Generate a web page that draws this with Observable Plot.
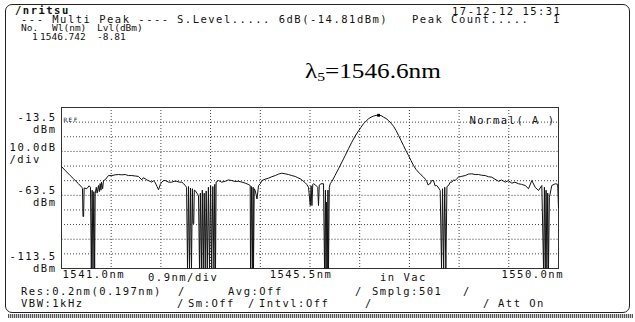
<!DOCTYPE html>
<html><head><meta charset="utf-8">
<script src="https://cdn.jsdelivr.net/npm/d3@7"></script>
<script src="https://cdn.jsdelivr.net/npm/@observablehq/plot@0.6"></script>
<style>
body{margin:0;background:#fff;}
#wrap{position:relative;width:635px;height:322px;overflow:hidden;background:#fff;font-family:"DejaVu Sans Mono",monospace;font-size:10.5px;letter-spacing:1.5px;color:#111;}
#wrap svg{position:absolute;left:0;top:0;}
.t{position:absolute;line-height:8px;white-space:pre;z-index:2;}
.n{font-size:9.5px;letter-spacing:0;}
#box{position:absolute;left:5px;top:4px;width:625px;height:309px;box-sizing:border-box;border:1px solid #222;border-radius:7px;z-index:1;}
#shadow{position:absolute;left:8px;top:314px;width:625px;height:4px;background:repeating-linear-gradient(90deg,#555 0 1px,#d0d0d0 1px 2px);z-index:1;}
#lam{position:absolute;left:305px;top:61px;font-family:"Liberation Serif","Times New Roman",serif;font-size:21px;line-height:21px;letter-spacing:0;transform:scaleX(1.2);transform-origin:left top;white-space:pre;z-index:2;color:#000;}
#lam sub{font-size:13px;vertical-align:-3px;line-height:0;}
</style>
</head><body>
<div id="wrap">
  <div id="box"></div>
  <div id="shadow"></div>
  <div class="t" style="left:15px;top:6px;font-weight:bold;">/nritsu</div>
  <div class="t" style="left:452px;top:7px;">17-12-12 15:31</div>
  <div class="t" style="left:21px;top:15px;">--- Multi Peak ----</div>
  <div class="t" style="left:177px;top:15px;">S.Level..... 6dB(-14.81dBm)</div>
  <div class="t" style="left:412px;top:15px;">Peak Count.....</div>
  <div class="t" style="left:553px;top:15px;">1</div>
  <div class="t n" style="left:21px;top:24px;">No.</div>
  <div class="t n" style="left:52px;top:24px;">Wl(nm)</div>
  <div class="t n" style="left:97px;top:24px;">Lvl(dBm)</div>
  <div class="t n" style="left:32px;top:33px;">1</div>
  <div class="t n" style="left:40px;top:33px;">1546.742</div>
  <div class="t n" style="left:97px;top:33px;">-8.81</div>
  <div id="lam">λ<sub>5</sub>=1546.6nm</div>
  <div class="t" style="left:148px;top:273px;">0.9nm/div</div>
  <div class="t" style="left:380px;top:273px;">in Vac</div>
  <div class="t" style="left:21px;top:287px;">Res:0.2nm(0.197nm)</div>
  <div class="t" style="left:178px;top:287px;">/</div>
  <div class="t" style="left:228px;top:287px;">Avg:Off</div>
  <div class="t" style="left:355px;top:287px;">/</div>
  <div class="t" style="left:372px;top:287px;">Smplg:501</div>
  <div class="t" style="left:463px;top:287px;">/</div>
  <div class="t" style="left:21px;top:299px;">VBW:1kHz</div>
  <div class="t" style="left:177px;top:299px;">/</div>
  <div class="t" style="left:188px;top:299px;">Sm:Off</div>
  <div class="t" style="left:248px;top:299px;">/</div>
  <div class="t" style="left:259px;top:299px;">Intvl:Off</div>
  <div class="t" style="left:365px;top:299px;">/</div>
  <div class="t" style="left:483px;top:299px;">/</div>
  <div class="t" style="left:498px;top:299px;">Att On</div>
</div>
<script>
// Trace samples: wavelength (nm) and level (dBm)
const wl = [
1541.000,1541.067,1541.158,1541.217,1541.308,1541.368,1541.380,1541.389,1541.400,1541.410,
1541.458,1541.500,1541.525,1541.540,1541.555,1541.570,1541.585,1541.600,1541.610,1541.630,
1541.645,1541.670,1541.685,1541.700,1541.715,1541.724,1541.745,1541.760,1541.791,1541.851,
1541.911,1541.972,1542.032,1542.093,1542.154,1542.213,1542.273,1542.334,1542.394,1542.454,
1542.480,1542.516,1542.546,1542.576,1542.606,1542.635,1542.665,1542.700,1542.730,1542.757,
1542.790,1542.816,1542.850,1542.878,1542.940,1542.997,1543.040,1543.088,1543.130,1543.179,
1543.210,1543.240,1543.265,1543.282,1543.300,1543.318,1543.336,1543.354,1543.370,1543.381,
1543.395,1543.405,1543.421,1543.450,1543.481,1543.499,1543.515,1543.533,1543.550,1543.567,
1543.585,1543.603,1543.620,1543.640,1543.660,1543.680,1543.700,1543.720,1543.740,1543.760,
1543.775,1543.789,1543.800,1543.843,1543.900,1543.964,1544.020,1544.084,1544.140,1544.205,
1544.270,1544.327,1544.380,1544.417,1544.423,1544.440,1544.455,1544.470,1544.477,1544.490,
1544.508,1544.540,1544.568,1544.600,1544.627,1544.690,1544.749,1544.810,1544.870,1544.930,
1544.989,1545.050,1545.111,1545.170,1545.232,1545.280,1545.323,1545.370,1545.413,1545.440,
1545.473,1545.505,1545.520,1545.535,1545.550,1545.564,1545.600,1545.640,1545.654,1545.668,
1545.700,1545.745,1545.763,1545.780,1545.790,1545.800,1545.812,1545.825,1545.835,1545.850,
1545.866,1545.895,1545.955,1546.016,1546.077,1546.138,1546.197,1546.257,1546.318,1546.378,
1546.424,1546.469,1546.515,1546.560,1546.605,1546.650,1546.696,1546.742,1546.787,1546.831,
1546.877,1546.922,1546.967,1547.012,1547.058,1547.103,1547.148,1547.193,1547.238,1547.284,
1547.330,1547.375,1547.420,1547.465,1547.510,1547.556,1547.590,1547.615,1547.640,1547.660,
1547.677,1547.700,1547.737,1547.765,1547.796,1547.830,1547.858,1547.882,1547.900,1547.920,
1547.940,1547.960,1547.980,1548.008,1548.040,1548.068,1548.100,1548.130,1548.160,1548.189,
1548.250,1548.311,1548.370,1548.430,1548.490,1548.552,1548.610,1548.673,1548.730,1548.792,
1548.850,1548.914,1548.970,1549.035,1549.090,1549.155,1549.210,1549.276,1549.330,1549.397,
1549.457,1549.517,1549.578,1549.638,1549.698,1549.729,1549.745,1549.760,1549.775,1549.790,
1549.805,1549.819,1549.835,1549.879,1549.941,1549.985,1550.000];
const lvl = [
-43.8,-46.5,-50.0,-52.2,-55.6,-58.0,-59.0,-78.0,-78.0,-58.5,
-59.0,-57.0,-58.0,-113.5,-60.0,-113.5,-61.0,-113.5,-62.5,-58.0,
-62.0,-56.8,-61.0,-55.5,-60.0,-54.5,-59.0,-53.5,-52.9,-50.0,
-50.0,-49.5,-49.3,-49.5,-49.3,-50.0,-50.0,-50.3,-50.6,-52.9,
-51.5,-52.2,-53.0,-53.4,-54.0,-54.5,-53.5,-55.0,-57.5,-59.7,
-56.0,-54.5,-53.4,-53.4,-54.5,-54.5,-53.9,-53.9,-54.5,-54.5,
-55.5,-56.8,-58.0,-113.5,-57.5,-113.5,-58.5,-113.5,-59.0,-82.8,
-82.8,-60.0,-60.2,-62.0,-63.6,-113.5,-62.0,-113.5,-60.0,-113.5,
-62.0,-113.5,-60.5,-113.5,-58.0,-113.5,-57.0,-113.5,-57.5,-113.5,
-56.0,-113.5,-54.5,-53.4,-54.5,-53.9,-53.0,-53.4,-54.0,-53.9,
-54.5,-55.2,-56.0,-56.8,-113.5,-57.5,-113.5,-58.0,-113.5,-59.0,
-60.2,-66.0,-56.8,-55.6,-53.4,-52.5,-51.8,-50.8,-50.0,-49.0,
-48.4,-48.8,-49.3,-50.0,-50.6,-51.5,-52.2,-53.5,-54.9,-56.0,
-58.0,-70.5,-57.0,-70.5,-56.0,-55.6,-56.5,-58.0,-70.5,-56.5,
-55.6,-55.6,-113.5,-60.0,-113.5,-68.2,-113.5,-60.0,-113.5,-58.0,
-55.6,-54.1,-49.8,-45.4,-40.8,-36.3,-31.7,-27.2,-23.0,-19.5,
-17.0,-14.6,-12.8,-11.2,-10.1,-9.4,-8.9,-8.81,-9.0,-10.1,
-11.0,-12.4,-14.2,-16.3,-19.2,-22.6,-26.0,-29.5,-33.0,-36.3,
-39.8,-43.1,-45.8,-47.7,-49.5,-51.1,-52.5,-54.1,-56.5,-55.6,
-55.6,-53.5,-53.4,-57.0,-56.8,-58.5,-60.2,-113.5,-59.0,-113.5,
-58.0,-113.5,-57.5,-56.8,-54.5,-54.5,-53.0,-53.4,-52.0,-51.1,
-50.5,-50.0,-49.0,-48.8,-49.3,-49.3,-49.8,-50.0,-50.8,-51.1,
-52.5,-53.9,-53.0,-54.5,-53.5,-55.2,-54.5,-55.6,-56.0,-56.8,
-59.0,-53.4,-58.0,-60.2,-56.8,-113.5,-58.0,-113.5,-60.0,-113.5,
-62.0,-113.5,-64.8,-56.8,-55.6,-56.0,-72.0];

const peakWl = [1546.742];
const peakLvl = [-8.81];

const xGrid = [1541.9,1542.8,1543.7,1544.6,1545.5,1546.4,1547.3,1548.2,1549.1];
const yGridDark = [-13.5,-23.5,-43.5,-53.5,-73.5,-83.5,-103.5];
const yGridGray = [-33.5,-63.5,-93.5];
const yTickTop = [-13.5,-63.5];
const yTickBottom = [-113.5];
const xTicks = [1541.0,1545.5,1550.0];

const trace = wl.map((w,i)=>({wl:w, lvl:lvl[i]}));
const peak = peakWl.map((w,i)=>({wl:w, lvl:peakLvl[i]}));
const FF = '"DejaVu Sans Mono", monospace';

const chart = Plot.plot({
  width:635, height:322,
  marginLeft:61, marginRight:77, marginTop:107, marginBottom:54,
  x:{domain:[1541,1550], axis:null},
  y:{domain:[-113.5,-3.5], axis:null},
  style:{background:"transparent", color:"#111"},
  marks:[
    Plot.ruleY(yGridGray, {stroke:"#9a9a9a", strokeDasharray:"2,1"}),
    Plot.ruleY(yGridDark, {stroke:"#444", strokeDasharray:"1,2"}),
    Plot.ruleX(xGrid, {stroke:"#444", strokeDasharray:"1,2"}),
    Plot.frame({stroke:"#333"}),
    Plot.line(trace, {x:"wl", y:"lvl", stroke:"#111", strokeWidth:1}),
    Plot.dot(peak, {x:"wl", y:"lvl", r:1.6, fill:"#000", symbol:"square"}),
    Plot.text(yTickTop, {y:d=>d, text:d=>d.toFixed(1), frameAnchor:"left", textAnchor:"end", dx:-5, dy:-5, fontFamily:FF, fontSize:10.5, fill:"#111"}),
    Plot.text(yTickTop, {y:d=>d, text:()=>"dBm", frameAnchor:"left", textAnchor:"end", dx:-5, dy:7, fontFamily:FF, fontSize:10.5, fill:"#111"}),
    Plot.text(yTickBottom, {y:d=>d, text:d=>d.toFixed(1), frameAnchor:"left", textAnchor:"end", dx:-5, dy:-12, fontFamily:FF, fontSize:10.5, fill:"#111"}),
    Plot.text(yTickBottom, {y:d=>d, text:()=>"dBm", frameAnchor:"left", textAnchor:"end", dx:-5, dy:0, fontFamily:FF, fontSize:10.5, fill:"#111"}),
    Plot.text(["10.0dB"], {y:-33.5, text:d=>d, frameAnchor:"left", textAnchor:"end", dx:-5, dy:-4, fontFamily:FF, fontSize:10.5, fill:"#111"}),
    Plot.text(["/div"], {y:-33.5, text:d=>d, frameAnchor:"left", textAnchor:"start", dx:-52, dy:8, fontFamily:FF, fontSize:10.5, fill:"#111"}),
    Plot.text([xTicks[0]], {x:d=>d, text:d=>d.toFixed(1)+"nm", frameAnchor:"bottom", textAnchor:"start", dx:1, dy:9, fontFamily:FF, fontSize:10.5, fill:"#111"}),
    Plot.text([xTicks[1]], {x:d=>d, text:d=>d.toFixed(1)+"nm", frameAnchor:"bottom", textAnchor:"middle", dx:-9, dy:9, fontFamily:FF, fontSize:10.5, fill:"#111"}),
    Plot.text([xTicks[2]], {x:d=>d, text:d=>d.toFixed(1)+"nm", frameAnchor:"bottom", textAnchor:"end", dx:5.5, dy:9, fontFamily:FF, fontSize:10.5, fill:"#111"}),
    Plot.text(["Normal( A )"], {text:d=>d, frameAnchor:"top-right", textAnchor:"end", dx:-3, dy:9, fontFamily:FF, fontSize:10.5, fill:"#111"}),
    Plot.text(["REF"], {y:-13.5, text:d=>d, frameAnchor:"left", textAnchor:"start", dx:2, dy:-2, fontFamily:FF, fontSize:6, fill:"#111"})
  ]
});
chart.style.letterSpacing = "1.5px";
document.getElementById("wrap").appendChild(chart);
</script>
</body></html>
